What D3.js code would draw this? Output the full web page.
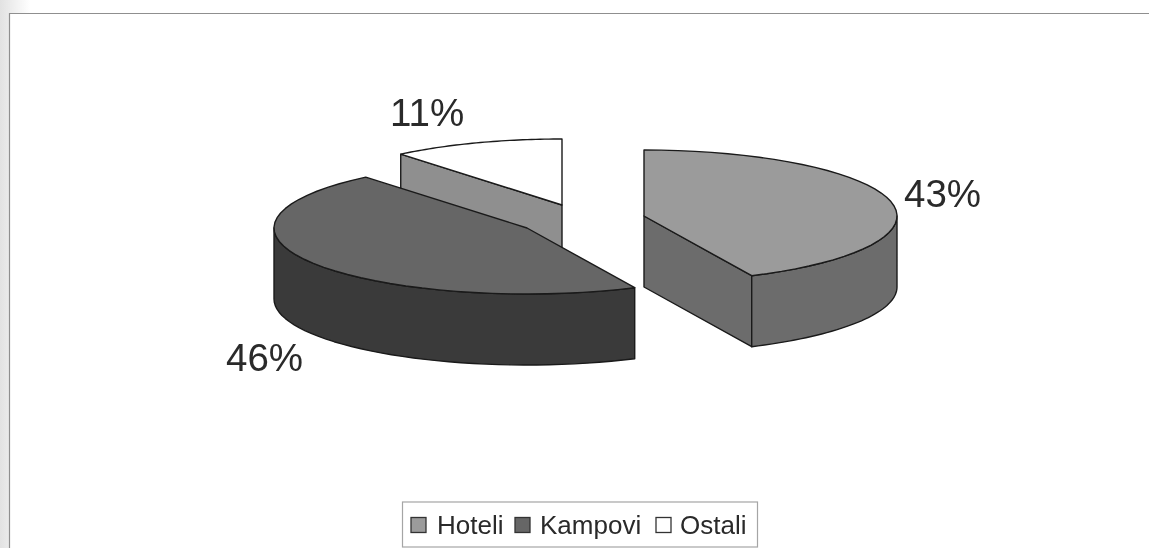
<!DOCTYPE html>
<html><head><meta charset="utf-8">
<script src="https://cdn.jsdelivr.net/npm/d3@7"></script>
<style>html,body{margin:0;padding:0;background:#fff}svg{display:block;filter:blur(.55px)}</style>
</head><body><svg id="c" width="1149" height="548"></svg>
<script>
const categories = ["Hoteli", "Kampovi", "Ostali"];
const shares = [43, 46, 11];
const labels = ["43%", "46%", "11%"];
const topColors = ["#9b9b9b", "#666666", "#ffffff"];
const sideColors = ["#6c6c6c", "#3a3a3a", "#8f8f8f"];
const swatchColors = ["#9b9b9b", "#666666", "#ffffff"];
const centres = [[644, 216], [527, 228], [562, 205]];
const labelPos = [[904, 207], [226, 371], [390, 126]];

const svg = d3.select("#c");
const W = 1149, H = 548, rx = 253, ry = 66, depth = 71;

// soft scan shading on the page edge
const g0 = svg.append("defs").append("linearGradient").attr("id", "edge");
g0.append("stop").attr("offset", 0).attr("stop-color", "#e2e2e2");
g0.append("stop").attr("offset", 1).attr("stop-color", "#ffffff");
svg.append("rect").attr("width", W).attr("height", H).attr("fill", "#fff");
svg.append("rect").attr("width", 30).attr("height", H).attr("fill", "url(#edge)");
svg.append("rect").attr("x", 9).attr("y", 14).attr("width", W).attr("height", H).attr("fill", "#fff");
const frame = d3.path();
frame.moveTo(W, 13.5); frame.lineTo(9.5, 13.5); frame.lineTo(9.5, H);
svg.append("path").attr("d", frame.toString()).attr("fill", "none").attr("stroke", "#8f8f8f").attr("stroke-width", 1.2);

const arcs = d3.pie().sort(null).value(d => d)(shares);
const pt = (c, a, dz = 0) => [c[0] + rx * Math.sin(a), c[1] - ry * Math.cos(a) + dz];
const sampleAngles = (a0, a1) => d3.range(0, 41).map(i => a0 + (a1 - a0) * i / 40);
const line = d3.line();

function draw(i) {
  const a = arcs[i], c = centres[i];
  const a0 = a.startAngle, a1 = a.endAngle;
  const stroke = "#1a1a1a";
  const poly = (pts, fill) => svg.append("path").attr("d", line(pts) + "Z")
    .attr("fill", fill).attr("stroke", stroke).attr("stroke-width", 1.4).attr("stroke-linejoin", "round");
  const side = sideColors[i];
  if (i === 2) { // Ostali: inner radial face at its start edge
    const s = pt(c, a0);
    poly([s, c, [c[0], c[1] + depth], [s[0], s[1] + depth]], side);
  }
  if (i === 0) { // Hoteli: front radial face at its end edge
    const e = pt(c, a1);
    poly([c, e, [e[0], e[1] + depth], [c[0], c[1] + depth]], side);
  }
  // outer wall: only the part of the rim facing the viewer
  const w0 = Math.max(a0, Math.PI / 2), w1 = Math.min(a1, 3 * Math.PI / 2);
  if (w1 > w0) {
    const rim = sampleAngles(w0, w1);
    poly(rim.map(t => pt(c, t)).concat(rim.slice().reverse().map(t => pt(c, t, depth))), side);
  }
  // top surface
  poly([c].concat(sampleAngles(a0, a1).map(t => pt(c, t))), topColors[i]);
}
[2, 1, 0].forEach(draw);

// percentage labels
svg.append("g").selectAll("text").data(labels).join("text")
  .attr("x", (d, i) => labelPos[i][0]).attr("y", (d, i) => labelPos[i][1])
  .attr("font-family", "Liberation Sans, Arial, sans-serif").attr("font-size", 38.5).attr("fill", "#2a2a2a")
  .text(d => d);

// legend
svg.append("rect").attr("x", 402.5).attr("y", 502).attr("width", 355).attr("height", 45)
  .attr("fill", "#fff").attr("stroke", "#a5a5a5").attr("stroke-width", 1.2);
const legendSwatchX = [411, 515, 656];
const legendTextX = [437, 540, 680];
const lg = svg.append("g");
categories.forEach((n, i) => {
  lg.append("rect").attr("x", legendSwatchX[i]).attr("y", 517.5).attr("width", 15).attr("height", 15)
    .attr("fill", swatchColors[i]).attr("stroke", "#333").attr("stroke-width", 1.3);
  lg.append("text").attr("x", legendTextX[i]).attr("y", 534)
    .attr("font-family", "Liberation Sans, Arial, sans-serif").attr("font-size", 26).attr("fill", "#2a2a2a").text(n);
});
</script></body></html>
